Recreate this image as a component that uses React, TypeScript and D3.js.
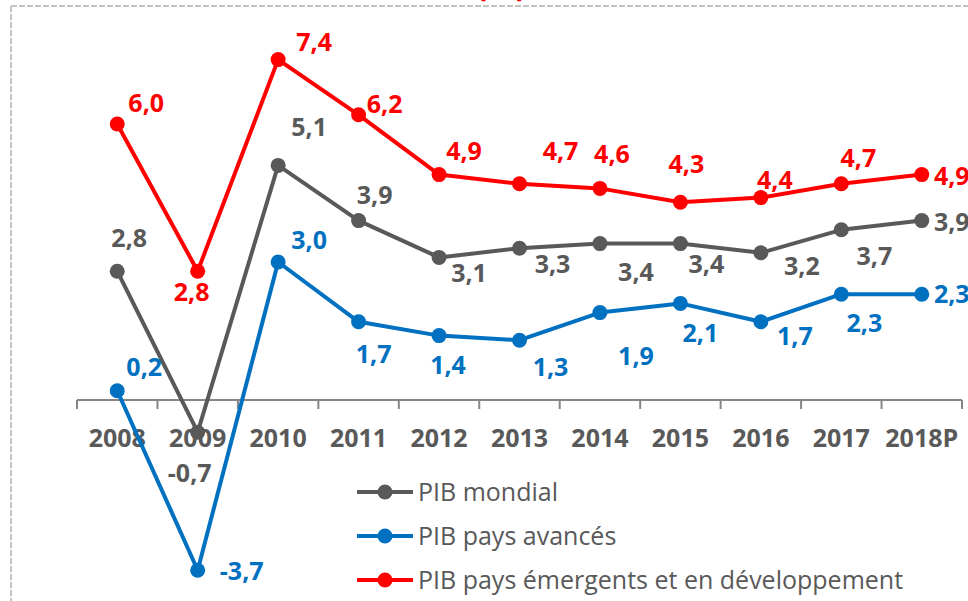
import React from "react";
import { scaleBand, scaleLinear, line } from "d3";

// croissance du PIB (%)
const years = ["2008", "2009", "2010", "2011", "2012", "2013", "2014", "2015", "2016", "2017", "2018P"];
const pibMondial = [2.8, -0.7, 5.1, 3.9, 3.1, 3.3, 3.4, 3.4, 3.2, 3.7, 3.9];
const pibAvances = [0.2, -3.7, 3.0, 1.7, 1.4, 1.3, 1.9, 2.1, 1.7, 2.3, 2.3];
const pibEmergents = [6.0, 2.8, 7.4, 6.2, 4.9, 4.7, 4.6, 4.3, 4.4, 4.7, 4.9];
const seriesNames = ["PIB mondial", "PIB pays avancés", "PIB pays émergents et en développement"];

const W = 968;
const H = 601;
const FONT = "'Open Sans', sans-serif";

// where each data label sits relative to its point (Excel placed them by hand)
const offsMondial = [[12, -33], [-8, 41], [31, -38], [16, -26], [30, 16], [33, 16], [36, 28], [26, 20], [41, 13], [33, 26], [30, 1]];
const offsAvances = [[27, -24], [44, 1], [31, -22], [15, 32], [9, 29], [31, 27], [36, 43], [20, 30], [34, 14], [23, 29], [30, 0]];
const offsEmergents = [[29, -21], [-6, 21], [36, -18], [26, -11], [25, -24], [41, -33], [12, -34], [6, -38], [14, -18], [17, -26], [30, 1]];

const series = [
  { name: seriesNames[0], values: pibMondial, color: "#595959", offs: offsMondial },
  { name: seriesNames[1], values: pibAvances, color: "#0070C0", offs: offsAvances },
  { name: seriesNames[2], values: pibEmergents, color: "#FF0000", offs: offsEmergents },
];

const fmt = (v: number) => v.toFixed(1).replace(".", ",");

export default function App() {
  const x = scaleBand<string>().domain(years).range([77, 962]).padding(0);
  const y = scaleLinear().domain([-4, 8]).range([584, 32]);
  const cx = (d: string) => (x(d) as number) + x.bandwidth() / 2;

  const path = line<number>()
    .x((_, i) => cx(years[i]))
    .y((v) => y(v));

  const edges = years.map((d) => x(d) as number).concat([x.range()[1]]);

  return (
    <svg
      width={W}
      height={H}
      style={{ position: "absolute", left: 0, top: 0, display: "block", background: "#fff" }}
      fontFamily={FONT}
    >
      {/* dashed frame of the chart area */}
      <line x1={11} y1={6} x2={W} y2={6} stroke="#c4c4c4" strokeWidth={2} strokeDasharray="6 2" />
      <line x1={11} y1={6} x2={11} y2={H} stroke="#c4c4c4" strokeWidth={2} strokeDasharray="6 2" />

      {/* title, mostly cut off at the top */}
      <text x={476} y={-4} fontSize={32} fontWeight="bold" fill="#FF0000">
        (%)
      </text>

      {/* axis */}
      <g>
        <line x1={x.range()[0]} x2={x.range()[1]} y1={y(0)} y2={y(0)} stroke="#868686" strokeWidth={2} />
        {edges.map((e, i) => (
          <line key={i} x1={e} x2={e} y1={y(0)} y2={y(0) + 9} stroke="#868686" strokeWidth={2} />
        ))}
        {years.map((d) => (
          <text key={d} x={cx(d)} y={447} textAnchor="middle" fontSize={25} fontWeight="bold" fill="#595959">
            {d}
          </text>
        ))}
      </g>

      {/* series */}
      {series.map((s) => (
        <g key={s.name}>
          <path d={path(s.values) || ""} fill="none" stroke={s.color} strokeWidth={4} strokeLinejoin="round" />
          {s.values.map((v, i) => (
            <circle key={i} cx={cx(years[i])} cy={y(v)} r={7.5} fill={s.color} />
          ))}
        </g>
      ))}
      {series.map((s) => (
        <g key={s.name + "-lbl"}>
          {s.values.map((v, i) => (
            <text
              key={i}
              x={cx(years[i]) + s.offs[i][0]}
              y={y(v) + s.offs[i][1] + 9}
              textAnchor="middle"
              fontSize={25}
              fontWeight="bold"
              fill={s.color}
            >
              {fmt(v)}
            </text>
          ))}
        </g>
      ))}

      {/* legend */}
      {series.map((s, i) => {
        const ly = 492 + i * 44;
        return (
          <g key={s.name + "-leg"}>
            <line x1={357} x2={413} y1={ly} y2={ly} stroke={s.color} strokeWidth={4} />
            <circle cx={385} cy={ly} r={7.5} fill={s.color} />
            <text x={418} y={ly + 9} fontSize={25} fill="#595959">
              {s.name}
            </text>
          </g>
        );
      })}
    </svg>
  );
}
